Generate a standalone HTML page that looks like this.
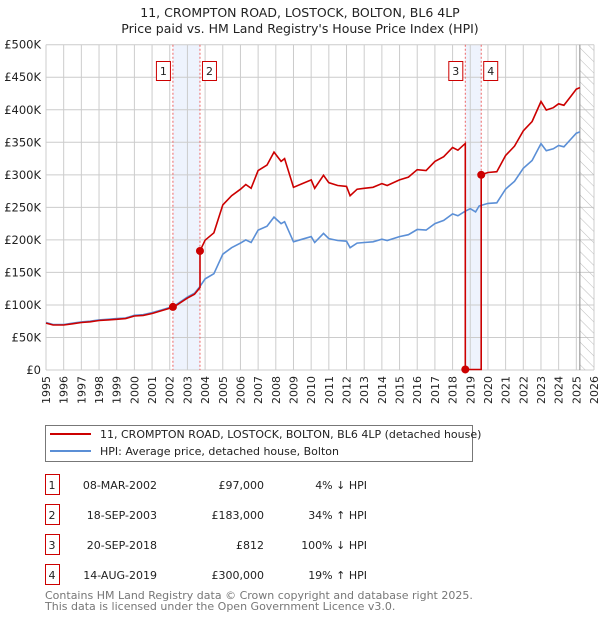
<!DOCTYPE html>
<html><head><meta charset="utf-8"><style>
body{margin:0;background:#fff;font-family:"Liberation Sans","DejaVu Sans",sans-serif;}
svg text{font-family:"DejaVu Sans","Liberation Sans",sans-serif;}
</style></head><body>
<svg id="chart" width="600" height="620" xmlns="http://www.w3.org/2000/svg">
<defs><pattern id="hatch" width="8" height="8" patternUnits="userSpaceOnUse" patternTransform="rotate(-45)"><line x1="0" y1="0" x2="0" y2="8" stroke="#bbb" stroke-width="1"/></pattern></defs>
<text x="300" y="17" text-anchor="middle" font-size="12.5" fill="#222">11, CROMPTON ROAD, LOSTOCK, BOLTON, BL6 4LP</text>
<text x="300" y="33" text-anchor="middle" font-size="12.5" fill="#222">Price paid vs. HM Land Registry's House Price Index (HPI)</text>
<g id="grid"></g><g id="marks"></g><g id="axes"></g>
<g>
<rect x="45.5" y="425.5" width="427" height="36" fill="#fff" stroke="#777"/>
<line x1="50" y1="434" x2="91" y2="434" stroke="#cc0000" stroke-width="2"/>
<text x="100" y="438" font-size="11" fill="#222">11, CROMPTON ROAD, LOSTOCK, BOLTON, BL6 4LP (detached house)</text>
<line x1="50" y1="451" x2="91" y2="451" stroke="#5b8fd6" stroke-width="2"/>
<text x="100" y="455" font-size="11" fill="#222">HPI: Average price, detached house, Bolton</text>
</g>
<g id="table" font-size="11" fill="#222"></g>
<text x="45" y="599" font-size="11" fill="#777">Contains HM Land Registry data © Crown copyright and database right 2025.</text>
<text x="45" y="610" font-size="11" fill="#777">This data is licensed under the Open Government Licence v3.0.</text>
</svg>
<script>
const hpiT=[1995,1995.4,1996,1996.5,1997,1997.5,1998,1998.5,1999,1999.5,2000,2000.5,2001,2001.5,2002,2002.4,2003,2003.4,2003.7,2004,2004.5,2005,2005.5,2006,2006.3,2006.6,2007,2007.5,2007.9,2008.3,2008.5,2009,2009.5,2010,2010.2,2010.7,2011,2011.5,2012,2012.2,2012.6,2013,2013.5,2014,2014.3,2015,2015.5,2016,2016.5,2017,2017.5,2018,2018.3,2018.7,2019,2019.3,2019.5,2020,2020.5,2021,2021.5,2022,2022.5,2023,2023.3,2023.7,2024,2024.3,2024.7,2025,2025.2];
const hpiV=[73,70,70,72,74,75,77,78,79,80,84,85,88,92,96,101,112,118,128,140,148,178,188,195,200,196,215,221,235,225,228,197,201,205,196,210,202,199,198,188,195,196,197,201,199,205,208,216,215,225,230,240,237,244,248,243,252,256,257,278,290,310,322,348,337,340,345,343,355,364,366];
const saleT=[2002.18,2003.71,2018.72,2019.62];
const saleP=[97,183,0.812,300];
const saleLabels=["1","2","3","4"];
const saleDates=["08-MAR-2002","18-SEP-2003","20-SEP-2018","14-AUG-2019"];
const salePrices=["£97,000","£183,000","£812","£300,000"];
const saleHpi=["4% ↓ HPI","34% ↑ HPI","100% ↓ HPI","19% ↑ HPI"];
const yTicks=[0,50,100,150,200,250,300,350,400,450,500];
const yLabels=["£0","£50K","£100K","£150K","£200K","£250K","£300K","£350K","£400K","£450K","£500K"];
const xYears=[1995,1996,1997,1998,1999,2000,2001,2002,2003,2004,2005,2006,2007,2008,2009,2010,2011,2012,2013,2014,2015,2016,2017,2018,2019,2020,2021,2022,2023,2024,2025,2026];
const X0=46,X1=594,Y0=370,Y1=44.7;
const x=t=>X0+(t-1995)/(2026-1995)*(X1-X0);
const y=v=>Y0-v/500*(Y0-Y1);
const NS="http://www.w3.org/2000/svg";
function mk(p,tag,a){const e=document.createElementNS(NS,tag);for(const k in a)e.setAttribute(k,a[k]);p.appendChild(e);return e;}
const grid=document.getElementById('grid'),marks=document.getElementById('marks'),axes=document.getElementById('axes'),table=document.getElementById('table');
function hpiAt(t){for(let i=0;i<hpiT.length-1;i++){if(t<=hpiT[i+1]){const f=(t-hpiT[i])/(hpiT[i+1]-hpiT[i]);return hpiV[i]+f*(hpiV[i+1]-hpiV[i]);}}return hpiV[hpiV.length-1];}
[[0,1],[2,3]].forEach((p,i)=>{const r=mk(grid,'rect',{x:x(saleT[p[0]]),y:Y1,width:x(saleT[p[1]])-x(saleT[p[0]]),height:Y0-Y1,fill:'#eef3fd'});

});
yTicks.forEach((v,i)=>{const l=mk(grid,'line',{x1:X0,x2:X1,y1:y(v),y2:y(v),stroke:'#ccc'});


const t=mk(axes,'text',{x:X0-5,y:y(v)+4,'text-anchor':'end','font-size':'11.5',fill:'#222'});t.textContent=yLabels[i];

});
xYears.forEach(yr=>{const l=mk(grid,'line',{x1:x(yr),x2:x(yr),y1:Y1,y2:Y0,stroke:'#ccc'});


const xx=x(yr)+4,yy=376;
const t=mk(axes,'text',{x:xx,y:yy,'text-anchor':'end','font-size':'11',fill:'#222',transform:'rotate(-90 '+xx+' '+yy+')'});t.textContent=yr;

});
const hr=mk(grid,'rect',{x:x(2025.2),y:Y1,width:X1-x(2025.2),height:Y0-Y1,fill:'url(#hatch)'});


mk(grid,'line',{x1:x(2025.2),x2:x(2025.2),y1:Y1,y2:Y0,stroke:'#888'});
saleT.forEach((t,i)=>{const l=mk(grid,'line',{x1:x(t),x2:x(t),y1:Y1,y2:Y0,stroke:'#e66','stroke-dasharray':'2,2','stroke-width':1});

});
let d='';for(let i=0;i<hpiT.length;i++)d+=(i?'L':'M')+x(hpiT[i]).toFixed(1)+','+y(hpiV[i]).toFixed(1);
const hp=mk(marks,'path',{d:d,fill:'none',stroke:'#5b8fd6','stroke-width':1.6});


let rd='',started=false;
const ts=[...new Set([1995,...hpiT,...saleT,...saleT.map(t=>t-0.001)])].sort((a,b)=>a-b);
ts.forEach(t=>{let k=0;for(let i=0;i<saleT.length;i++)if(t>=saleT[i])k=i;
const v=saleP[k]*hpiAt(t)/hpiAt(saleT[k]);rd+=(started?'L':'M')+x(t).toFixed(1)+','+y(v).toFixed(1);started=true;});
const rp=mk(marks,'path',{d:rd,fill:'none',stroke:'#cc0000','stroke-width':1.6});


saleT.forEach((t,i)=>{const c=mk(marks,'circle',{cx:x(t),cy:y(saleP[i]),r:4,fill:'#cc0000'});


const bx=(i%2===0)?x(t)-17:x(t)+2;
const r=mk(marks,'rect',{x:bx+0.5,y:61.5,width:14,height:19,fill:'#fff',stroke:'#cc0000'});


const tx=mk(marks,'text',{x:bx+7.5,y:75,'text-anchor':'middle','font-size':'11',fill:'#222'});tx.textContent=saleLabels[i];

});
saleLabels.forEach((n,i)=>{const yy=487+i*30;
const r=mk(table,'rect',{x:45.5,y:yy-12.5,width:14,height:20,fill:'#fff',stroke:'#cc0000'});


[[52,'middle',n,'table-row-number'],[157,'end',saleDates[i],'table-date'],[264,'end',salePrices[i],'table-price'],[367,'end',saleHpi[i],'table-hpi-change']].forEach(c=>{
const t=mk(table,'text',{x:c[0],y:yy+2,'text-anchor':c[1]});t.textContent=c[2];

});});
</script>
</body></html>
